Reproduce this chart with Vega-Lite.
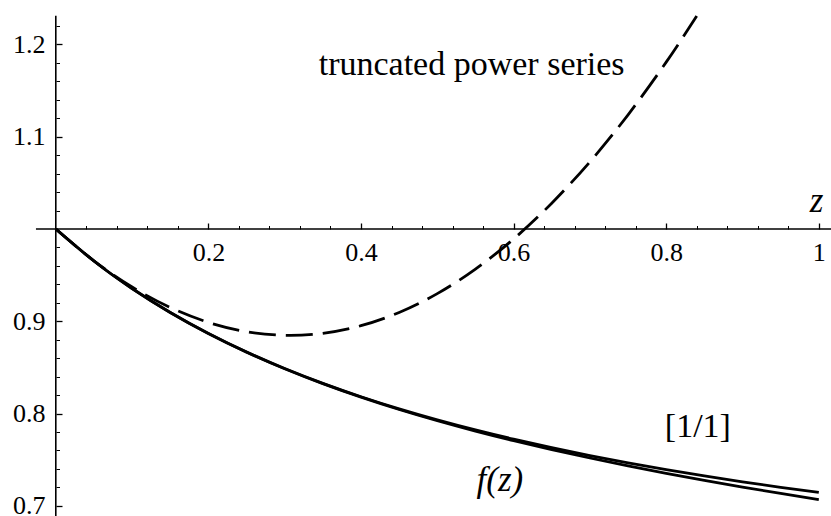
{
  "$schema": "https://vega.github.io/schema/vega-lite/v6.json",
  "width": 831,
  "height": 516,
  "padding": 0,
  "autosize": {"type": "none"},
  "background": "white",
  "config": {
    "view": {"stroke": null},
    "font": "Liberation Serif",
    "axis": {"labelFont": "Liberation Serif", "labelColor": "black", "tickColor": "black", "grid": false, "domain": false, "title": null}
  },
  "datasets": {
    "curves": [
      {"curve": "f", "z": 0.0, "value": 1.0},
      {"curve": "f", "z": 0.05, "value": 0.96532},
      {"curve": "f", "z": 0.1, "value": 0.93548},
      {"curve": "f", "z": 0.15, "value": 0.90954},
      {"curve": "f", "z": 0.2, "value": 0.88676},
      {"curve": "f", "z": 0.25, "value": 0.86658},
      {"curve": "f", "z": 0.3, "value": 0.84858},
      {"curve": "f", "z": 0.35, "value": 0.83241},
      {"curve": "f", "z": 0.4, "value": 0.81776},
      {"curve": "f", "z": 0.45, "value": 0.80443},
      {"curve": "f", "z": 0.5, "value": 0.79223},
      {"curve": "f", "z": 0.55, "value": 0.78098},
      {"curve": "f", "z": 0.6, "value": 0.77059},
      {"curve": "f", "z": 0.65, "value": 0.76091},
      {"curve": "f", "z": 0.7, "value": 0.75185},
      {"curve": "f", "z": 0.75, "value": 0.74334},
      {"curve": "f", "z": 0.8, "value": 0.73529},
      {"curve": "f", "z": 0.85, "value": 0.72766},
      {"curve": "f", "z": 0.9, "value": 0.72037},
      {"curve": "f", "z": 0.95, "value": 0.71339},
      {"curve": "f", "z": 1.0, "value": 0.70667},
      {"curve": "pade", "z": 0.0, "value": 1.0},
      {"curve": "pade", "z": 0.05, "value": 0.96532},
      {"curve": "pade", "z": 0.1, "value": 0.93549},
      {"curve": "pade", "z": 0.15, "value": 0.90957},
      {"curve": "pade", "z": 0.2, "value": 0.88682},
      {"curve": "pade", "z": 0.25, "value": 0.8667},
      {"curve": "pade", "z": 0.3, "value": 0.84879},
      {"curve": "pade", "z": 0.35, "value": 0.83274},
      {"curve": "pade", "z": 0.4, "value": 0.81826},
      {"curve": "pade", "z": 0.45, "value": 0.80514},
      {"curve": "pade", "z": 0.5, "value": 0.7932},
      {"curve": "pade", "z": 0.55, "value": 0.78228},
      {"curve": "pade", "z": 0.6, "value": 0.77227},
      {"curve": "pade", "z": 0.65, "value": 0.76305},
      {"curve": "pade", "z": 0.7, "value": 0.75452},
      {"curve": "pade", "z": 0.75, "value": 0.74663},
      {"curve": "pade", "z": 0.8, "value": 0.73928},
      {"curve": "pade", "z": 0.85, "value": 0.73245},
      {"curve": "pade", "z": 0.9, "value": 0.72606},
      {"curve": "pade", "z": 0.95, "value": 0.72008},
      {"curve": "pade", "z": 1.0, "value": 0.71447},
      {"curve": "series", "z": 0.0, "value": 1.0},
      {"curve": "series", "z": 0.05, "value": 0.96555},
      {"curve": "series", "z": 0.1, "value": 0.9372},
      {"curve": "series", "z": 0.15, "value": 0.91495},
      {"curve": "series", "z": 0.2, "value": 0.8988},
      {"curve": "series", "z": 0.25, "value": 0.88875},
      {"curve": "series", "z": 0.3, "value": 0.8848},
      {"curve": "series", "z": 0.35, "value": 0.88695},
      {"curve": "series", "z": 0.4, "value": 0.8952},
      {"curve": "series", "z": 0.45, "value": 0.90955},
      {"curve": "series", "z": 0.5, "value": 0.93},
      {"curve": "series", "z": 0.55, "value": 0.95655},
      {"curve": "series", "z": 0.6, "value": 0.9892},
      {"curve": "series", "z": 0.65, "value": 1.02795},
      {"curve": "series", "z": 0.7, "value": 1.0728},
      {"curve": "series", "z": 0.75, "value": 1.12375},
      {"curve": "series", "z": 0.8, "value": 1.1808},
      {"curve": "series", "z": 0.84, "value": 1.23083}
    ],
    "notes": [
      {"kind": "plain", "text": "truncated power series", "z": 0.545, "value": 1.167},
      {"kind": "plain", "text": "[1/1]", "z": 0.8415, "value": 0.7746},
      {"kind": "math", "text": "f(z)", "z": 0.582, "value": 0.7166},
      {"kind": "math", "text": "z", "z": 0.997, "value": 1.0184}
    ],
    "frame": [{}]
  },
  "resolve": {"axis": {"x": "independent", "y": "independent"}},
  "layer": [
    {
      "data": {"name": "frame"},
      "mark": {"type": "rule", "color": "black", "strokeWidth": 1.6},
      "encoding": {
        "x": {"datum": -0.026, "type": "quantitative", "scale": {"domain": [-0.07313, 1.01599], "nice": false, "zero": false}, "axis": null},
        "x2": {"datum": 1.016},
        "y": {"datum": 1, "type": "quantitative", "scale": {"domain": [0.68899, 1.24816], "nice": false, "zero": false}, "axis": null}
      }
    },
    {
      "data": {"name": "frame"},
      "mark": {"type": "rule", "color": "black", "strokeWidth": 1.6},
      "encoding": {
        "x": {"datum": 0, "type": "quantitative", "axis": null},
        "y": {"datum": 1.2311, "type": "quantitative", "axis": null},
        "y2": {"datum": 0.66}
      }
    },
    {
      "data": {"name": "curves"},
      "transform": [{"filter": "datum.curve === 'series'"}],
      "mark": {"type": "line", "color": "black", "strokeWidth": 2.8, "strokeDash": [27, 10], "interpolate": "natural", "clip": true},
      "encoding": {
        "x": {
          "field": "z", "type": "quantitative",
          "scale": {"domain": [-0.07313, 1.01599], "nice": false, "zero": false},
          "axis": {
            "orient": "bottom",
            "offset": -287,
            "values": [0.2, 0.4, 0.6, 0.8, 1.0],
            "tickSize": -6,
            "tickWidth": 1.3,
            "labelExpr": "format(datum.value, '~g')",
            "labelFontSize": 26,
            "labelPadding": 16,
            "labelBaseline": "top",
            "labelAlign": "center",
            "labelOverlap": false,
            "labelFlush": false
          }
        },
        "y": {
          "field": "value", "type": "quantitative",
          "scale": {"domain": [0.68899, 1.24816], "nice": false, "zero": false},
          "axis": {
            "orient": "left",
            "offset": -56,
            "values": [0.7, 0.8, 0.9, 1.1, 1.2],
            "tickSize": -6,
            "tickWidth": 1.3,
            "labelExpr": "format(datum.value, '~g')",
            "labelFontSize": 26,
            "labelPadding": 17,
            "labelBaseline": "middle",
            "labelAlign": "right",
            "labelOverlap": false,
            "labelFlush": false
          }
        }
      }
    },
    {
      "data": {"name": "curves"},
      "transform": [{"filter": "datum.curve !== 'series'"}],
      "mark": {"type": "line", "color": "black", "strokeWidth": 2.8, "interpolate": "natural", "clip": true},
      "encoding": {
        "x": {
          "field": "z", "type": "quantitative",
          "axis": {
            "orient": "bottom",
            "offset": -287,
            "values": [0.04, 0.08, 0.12, 0.16, 0.24, 0.28, 0.32, 0.36, 0.44, 0.48, 0.52, 0.56, 0.64, 0.68, 0.72, 0.76, 0.84, 0.88, 0.92, 0.96],
            "tickSize": -3.5,
            "tickWidth": 1,
            "labels": false
          }
        },
        "y": {
          "field": "value", "type": "quantitative",
          "axis": {
            "orient": "left",
            "offset": -56,
            "values": [0.72, 0.74, 0.76, 0.78, 0.82, 0.84, 0.86, 0.88, 0.92, 0.94, 0.96, 0.98, 1.02, 1.04, 1.06, 1.08, 1.12, 1.14, 1.16, 1.18, 1.22],
            "tickSize": -3.5,
            "tickWidth": 1,
            "labels": false
          }
        },
        "detail": {"field": "curve"}
      }
    },
    {
      "data": {"name": "notes"},
      "transform": [{"filter": "datum.kind === 'plain'"}],
      "mark": {"type": "text", "font": "Liberation Serif", "fontSize": 34, "color": "black", "align": "center", "baseline": "alphabetic"},
      "encoding": {
        "x": {"field": "z", "type": "quantitative", "axis": null},
        "y": {"field": "value", "type": "quantitative", "axis": null},
        "text": {"field": "text"}
      }
    },
    {
      "data": {"name": "notes"},
      "transform": [{"filter": "datum.kind === 'math'"}],
      "mark": {"type": "text", "font": "Liberation Serif", "fontSize": 35, "fontStyle": "italic", "color": "black", "align": "center", "baseline": "alphabetic"},
      "encoding": {
        "x": {"field": "z", "type": "quantitative", "axis": null},
        "y": {"field": "value", "type": "quantitative", "axis": null},
        "text": {"field": "text"}
      }
    }
  ]
}
